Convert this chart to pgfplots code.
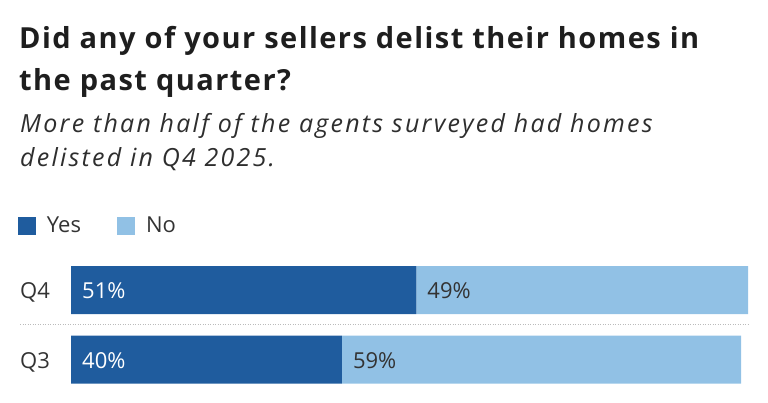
\documentclass[border=0pt]{standalone}
\usepackage{fontspec}
\setmainfont{Open Sans}
\usepackage{pgfplots}
\pgfplotsset{compat=1.18}
\definecolor{yesblue}{HTML}{1F5C9E}
\definecolor{noblue}{HTML}{91C1E5}
\definecolor{titletxt}{HTML}{1E1E1E}
\definecolor{subtxt}{HTML}{2E2E2E}
\definecolor{lbl}{HTML}{333333}
\definecolor{sep}{HTML}{BBBBBB}

\begin{document}
\begin{tikzpicture}[x=1pt,y=1pt]
\useasboundingbox (0,0) rectangle (768,402);

% title and subtitle
\node[anchor=base west, inner sep=0pt, text=titletxt, font=\fontsize{29}{34}\selectfont\bfseries\addfontfeatures{LetterSpace=5}] at (19,353) {Did any of your sellers delist their homes in};
\node[anchor=base west, inner sep=0pt, text=titletxt, font=\fontsize{29}{34}\selectfont\bfseries\addfontfeatures{LetterSpace=5}] at (19,311) {the past quarter?};
\node[anchor=base west, inner sep=0pt, text=subtxt, font=\fontsize{25}{28}\selectfont\itshape\addfontfeatures{LetterSpace=9}] at (20,269) {More than half of the agents surveyed had homes};
\node[anchor=base west, inner sep=0pt, text=subtxt, font=\fontsize{25}{28}\selectfont\itshape\addfontfeatures{LetterSpace=9}] at (20,235) {delisted in Q4 2025.};

\begin{axis}[
    at={(71pt,0.8pt)}, anchor=south west,
    scale only axis,
    width=677pt, height=152.9pt,
    xbar stacked,
    bar width=48pt,
    xmin=0, xmax=100,
    ymin=-0.6, ymax=1.6,
    ytick={0,1},
    yticklabels={Q3,Q4},
    xtick=\empty,
    axis line style={draw=none},
    major tick length=0pt,
    yticklabel style={anchor=base west, inner sep=0pt, xshift=-51pt, yshift=-8.5pt,
        font=\fontsize{22}{26}\selectfont, text=lbl},
    clip=false,
    legend image code/.code={\fill[#1] (0pt,-9pt) rectangle (18pt,9pt);},
    legend style={at={(axis description cs:-0.0783,1.149)}, anchor=west,
        draw=none, fill=none, inner sep=0pt, outer sep=0pt,
        legend columns=-1, cells={anchor=west},
        nodes={inner sep=0pt, text=lbl},
        font=\fontsize{22}{26}\selectfont,
        /tikz/every odd column/.append style={column sep=11pt},
        /tikz/every even column/.append style={column sep=36pt}},
    after end axis/.code={
        \draw[sep, line width=1pt, dash pattern=on 1pt off 1.5pt] (axis cs:-7.5,0.5) -- (axis cs:100,0.5);
        \node[anchor=base west, inner sep=0pt, xshift=11pt, yshift=-8.5pt, text=white, font=\fontsize{22}{26}\selectfont] at (axis cs:0,1) {51\%};
        \node[anchor=base west, inner sep=0pt, xshift=11pt, yshift=-8.5pt, text=lbl, font=\fontsize{22}{26}\selectfont] at (axis cs:51,1) {49\%};
        \node[anchor=base west, inner sep=0pt, xshift=11pt, yshift=-8.5pt, text=white, font=\fontsize{22}{26}\selectfont] at (axis cs:0,0) {40\%};
        \node[anchor=base west, inner sep=0pt, xshift=11pt, yshift=-8.5pt, text=lbl, font=\fontsize{22}{26}\selectfont] at (axis cs:40,0) {59\%};
    },
]
\addplot[fill=yesblue, draw=none] coordinates {(51,1) (40,0)};
\addplot[fill=noblue, draw=none] coordinates {(49,1) (59,0)};
\legend{Yes,No}
\end{axis}
\end{tikzpicture}
\end{document}
